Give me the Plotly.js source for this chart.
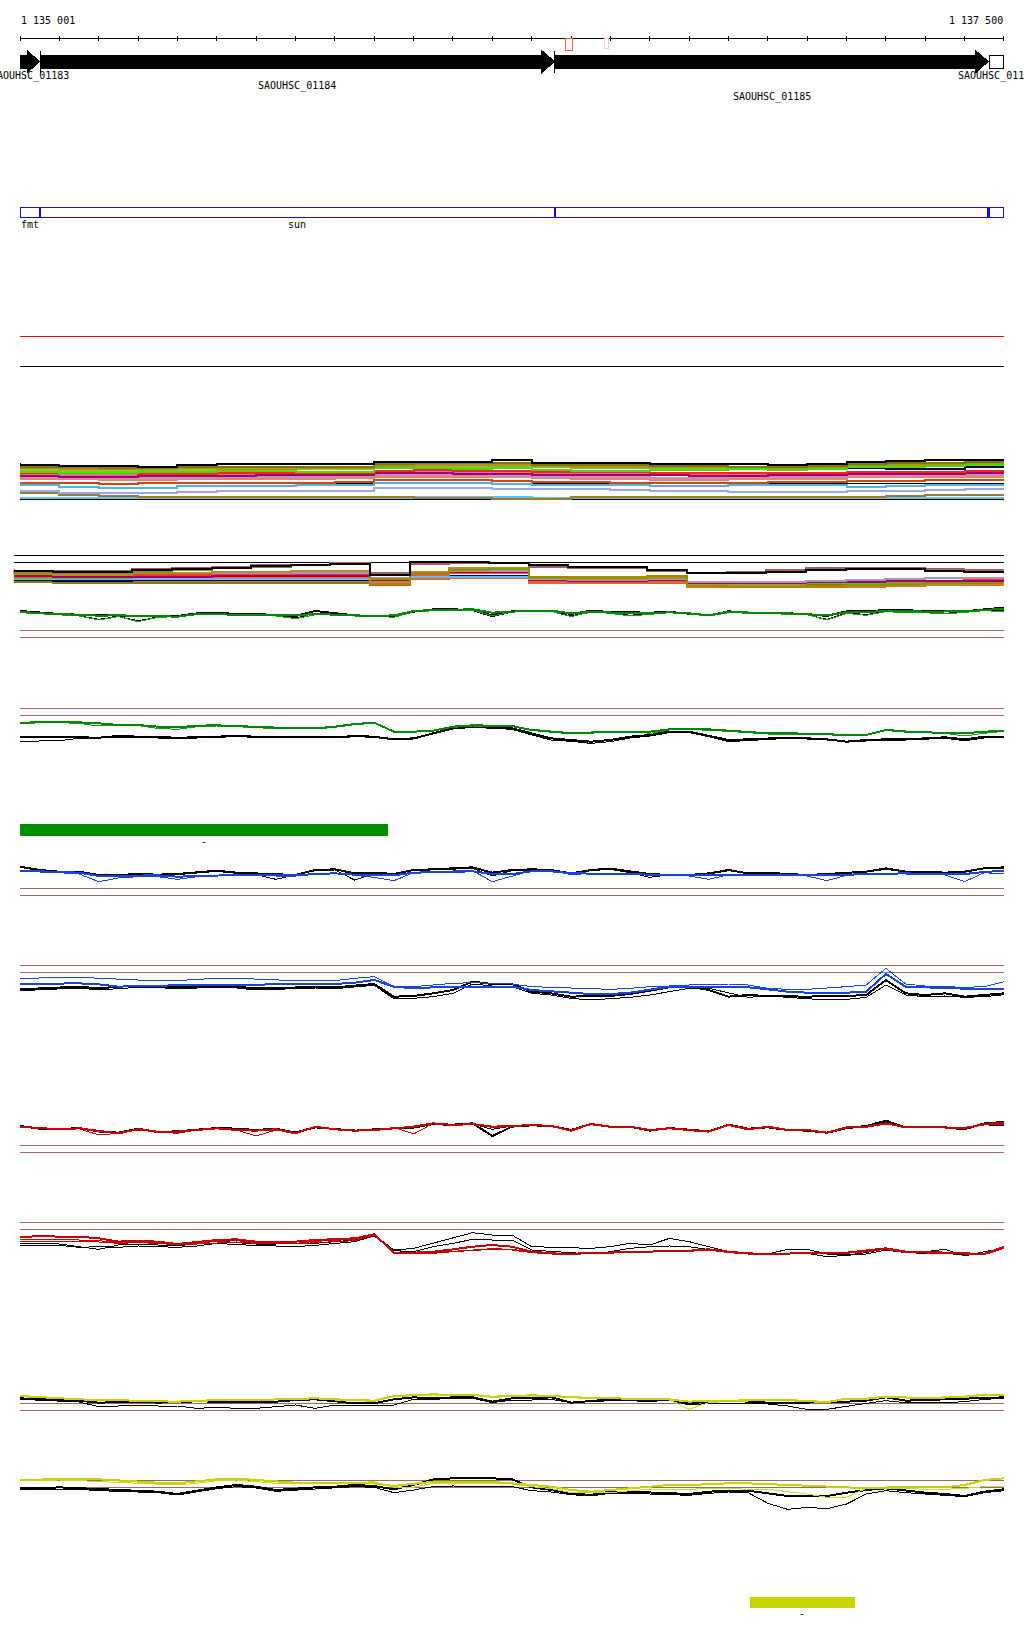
<!DOCTYPE html>
<html><head><meta charset="utf-8">
<script src="https://cdn.plot.ly/plotly-3.0.1.min.js"></script>
<style>html,body{margin:0;padding:0;background:#fff}#chart{width:1024px;height:1640px}
#chart .scatterlayer path, #chart .shapelayer path{shape-rendering:crispEdges}</style>
</head><body><div id="chart"></div>
<script>
// ---------------- data ----------------
const XMIN = 1135000, XMAX = 1137500;
const pos50 = []; for (let p = XMIN; p <= XMAX; p += 50) pos50.push(p);
const pos100 = []; for (let p = XMIN; p <= XMAX; p += 100) pos100.push(p);

// genes
const geneNames  = ['SAOUHSC_01183','SAOUHSC_01184','SAOUHSC_01185','SAOUHSC_01186'];
const geneStart  = [1134210, 1135051, 1136359, 1137462];
const geneEnd    = [1135050, 1136358, 1137460, 1138120];
const geneFilled = [true, true, true, false];
const geneRow    = [0, 1, 2, 0];

// named features
const featNames = ['fmt', 'sun', '', ''];
const featStart = [1134210, 1135051, 1136359, 1137462];
const featEnd   = [1135049, 1136359, 1137459, 1138120];

// small markers on ruler
const markStart = [1136385, 1136484];
const markEnd   = [1136404, 1136494];
const markColor = ['#ff5a3c', '#ffc8b8'];

// region bars
const barStart = [1135001, 1136855];
const barEnd   = [1135934, 1137121];
const barColor = ['#008f00', '#c8d400'];
const barLabel = ['-', '-'];

// thresholds per track
const thrA = [102, 12], thrB = [53, 7], thrC = [114, 93], thrD = [30, 8], thrE = [126, 104],
      thrF = [35, 14], thrG = [115, 93], thrH = [35, 13], thrI = [123, 102], thrJ = [30, 9], thrK = [100, 78];

// bundle 1 (100 bp windows)
const B_black   = [117,110,107,107,105,110,113,113,113,113,120,120,120,125,117,115,115,113,113,113,109,113,120,123,125,125];
const B_olive   = [110,105,103,100,100,105,105,103,105,105,113,115,115,117,111,109,109,107,107,105,103,107,113,115,117,119];
const B_gold    = [107,100,97,97,97,100,99,99,100,101,107,109,110,111,107,105,105,105,105,103,101,103,109,110,113,115];
const B_green   = [93,90,85,87,89,90,93,93,90,90,100,100,98,100,95,93,93,95,95,97,95,97,105,105,107,109];
const B_lgreen  = [99,95,93,93,93,95,95,97,97,97,105,105,105,107,103,101,100,99,99,99,97,99,105,105,107,109];
const B_navy    = [109,107,103,97,95,93,95,97,105,105,107,105,105,107,107,105,103,103,101,105,105,103,101,97,99,105];
const B_red     = [87,85,87,85,83,83,85,85,87,87,93,95,93,93,89,89,89,87,87,85,85,87,90,90,90,93];
const B_magenta = [80,77,75,75,77,77,77,79,79,80,85,85,83,83,80,80,79,79,77,77,79,79,83,83,83,85];
const B_pink    = [83,83,81,80,79,81,82,82,83,85,87,88,87,87,85,83,82,82,83,83,83,83,85,87,87,87];
const B_mauve   = [75,73,71,70,70,71,73,73,75,77,79,79,79,77,75,75,73,71,71,73,73,75,77,77,79,79];
const B_salmon  = [70,67,67,65,65,67,67,69,69,71,75,75,75,73,70,69,67,65,65,67,69,69,73,73,75,75];
const B_orange  = [60,57,55,53,57,57,55,55,57,59,65,65,65,63,60,59,57,57,55,57,59,59,63,63,65,65];
const B_lblue   = [50,49,45,40,40,47,48,48,50,50,55,55,55,53,50,49,49,47,47,49,50,49,45,47,50,50];
const B_peri    = [37,33,27,25,25,30,31,31,31,33,40,40,40,39,37,37,35,33,31,30,29,30,33,33,35,37];
const B_brown   = [35,27,19,17,15,13,13,13,13,15,15,11,11,9,9,13,13,13,13,13,13,13,15,17,19,20];
const B_lblue2  = [10,10,10,10,10,10,10,10,10,10,11,15,15,15,11,10,10,10,10,10,10,10,10,11,11,11];

// bundle 2 (100 bp windows)
const C_black   = [68,67,65,65,70,74,77,82,84,88,55,94,94,92,85,80,78,70,60,62,64,70,72,72,68,65];
const C_brown   = [72,68,66,66,72,76,78,84,86,90,60,88,92,90,80,75,75,68,62,65,70,75,75,75,72,70];
const C_olive   = [65,62,60,60,65,70,75,80,85,88,42,60,70,72,48,48,50,52,22,20,20,22,25,28,30,30];
const C_gold    = [60,58,56,56,60,62,64,65,66,68,35,65,75,76,45,42,42,45,25,25,24,22,22,24,25,28];
const C_lav     = [62,60,60,58,60,60,60,60,60,60,45,65,68,68,42,40,40,42,35,35,35,38,40,42,45,45];
const C_magenta = [52,52,50,50,50,50,52,52,52,52,38,60,65,65,40,38,38,40,32,32,32,34,34,36,36,38];
const C_red     = [54,54,52,52,54,54,54,54,54,54,40,62,66,66,42,40,40,42,34,34,34,36,36,38,38,40];
const C_orange  = [50,48,48,48,48,48,48,48,48,48,32,55,60,60,35,32,32,35,20,18,18,20,22,24,26,30];
const C_green   = [45,45,45,45,48,48,48,48,48,48,35,60,64,64,38,36,36,38,28,28,30,30,32,34,36,40];
const C_lblue   = [42,42,42,42,42,42,42,42,42,42,30,50,50,50,35,34,34,36,30,30,30,32,34,36,38,40];
const C_navy    = [40,40,38,38,40,40,40,40,40,40,32,48,52,52,36,36,36,36,32,32,32,32,34,36,36,38];
const C_olive2  = [35,35,32,30,30,32,32,32,32,32,25,45,48,48,30,30,30,30,25,25,25,28,30,30,32,32];
const C_dorange = [42,40,40,38,36,36,36,36,36,36,28,42,45,45,32,30,30,32,22,20,18,18,20,22,24,26];

// signal tracks (50 bp windows)
const D_black1 = [87,82,78,76,74,74,72,70,72,80,82,78,78,75,72,87,80,74,72,72,85,92,92,90,74,86,88,88,78,88,84,82,82,84,80,74,86,82,82,80,78,72,86,86,90,90,86,86,86,92,97];
const D_black2 = [84,80,76,73,62,70,58,68,70,78,78,74,74,72,66,80,76,72,72,70,84,90,90,88,70,84,86,86,72,86,82,74,80,84,78,72,84,80,80,78,76,62,82,76,86,84,84,80,84,90,88];
const D_green1 = [85,80,78,75,73,74,72,70,70,78,78,75,74,74,74,78,76,74,72,74,87,90,92,92,82,86,88,88,80,85,82,80,80,83,80,74,85,82,80,80,78,74,83,83,88,88,85,85,86,90,94];
const D_green2 = [82,78,75,72,60,70,55,68,70,76,76,74,74,72,64,76,75,72,72,68,85,88,90,90,72,84,87,86,70,84,80,72,78,82,78,72,82,80,78,78,76,60,80,74,85,82,82,78,84,88,85];

const E_green1 = [80,85,83,83,80,75,75,70,68,73,74,72,68,66,65,65,70,78,82,55,55,58,70,74,72,72,60,55,50,52,55,55,55,62,63,62,58,55,50,50,50,48,44,45,60,55,53,52,50,55,58];
const E_green2 = [78,82,82,80,72,72,73,65,62,70,72,70,66,64,63,63,68,76,80,55,56,58,68,72,72,70,62,58,52,54,56,56,50,60,62,60,56,52,48,48,48,46,42,43,62,56,52,50,42,50,56];
const E_black1 = [40,40,40,38,37,42,40,38,37,38,40,42,40,40,40,40,38,42,40,32,35,50,65,70,68,65,50,35,30,25,30,40,45,55,55,42,30,32,35,37,35,32,25,30,32,32,35,38,32,40,40];
const E_black2 = [26,26,28,35,36,38,38,36,35,36,38,40,38,38,38,38,36,40,38,30,33,48,63,68,66,62,45,30,26,20,25,36,42,52,52,40,25,28,32,35,33,30,24,28,30,30,32,35,28,36,38];

const F_blue1  = [88,86,84,82,72,72,74,74,70,72,75,75,75,74,74,78,80,76,74,74,82,84,85,86,78,78,86,86,80,80,80,78,76,74,74,74,76,76,75,74,74,74,76,78,80,80,78,78,78,84,88];
const F_blue2  = [90,84,82,78,55,66,70,70,62,70,74,76,75,72,72,78,82,74,68,58,82,86,86,88,55,72,88,88,76,80,80,78,74,72,72,62,76,76,74,74,72,58,74,78,80,78,76,75,55,82,78];
const F_black1 = [100,90,85,85,75,75,78,76,78,82,88,82,80,78,75,90,92,80,82,78,90,92,95,98,82,90,92,90,80,90,94,85,78,75,75,80,90,80,82,78,75,78,82,85,95,85,85,82,85,95,98];
const F_black2 = [98,88,82,82,76,74,76,74,76,80,86,80,76,62,76,88,90,60,78,80,88,90,94,95,72,88,90,88,78,88,92,82,68,76,74,78,88,82,80,78,76,76,80,84,92,84,82,82,84,94,96];

const G_blueU  = [75,75,77,78,75,72,70,70,68,72,75,75,72,70,68,67,68,75,80,50,50,55,60,62,60,58,50,48,45,42,42,45,50,52,55,58,58,55,45,42,42,45,50,55,105,58,52,50,48,50,65];
const G_blueL  = [58,58,60,60,57,50,52,52,55,55,57,55,55,57,57,58,58,62,70,50,45,48,48,50,50,50,40,35,32,28,28,32,40,50,50,50,50,48,42,35,32,32,32,35,88,50,48,45,42,42,42];
const G_blackU = [42,45,48,50,45,50,52,50,48,50,52,50,45,45,47,50,48,52,58,20,22,30,40,65,58,58,35,30,20,22,22,28,38,48,50,40,20,25,22,20,20,22,22,25,70,30,25,30,20,25,30];
const G_blackL = [38,40,44,46,40,45,48,47,44,46,48,46,40,42,44,46,44,48,54,14,15,20,30,58,52,50,30,25,15,10,14,18,25,35,45,45,32,18,22,18,14,10,12,18,55,25,20,22,18,20,26];

const H_red1   = [90,85,82,85,78,70,82,75,75,80,85,80,78,82,70,90,82,78,80,85,90,100,95,98,90,92,95,92,78,98,90,90,80,85,80,75,95,82,90,80,80,72,88,90,100,88,90,88,85,98,102];
const H_red2   = [88,84,82,84,65,70,80,74,70,80,84,80,62,80,70,88,82,78,78,88,68,100,95,96,88,90,95,92,78,96,88,88,80,84,78,74,95,84,88,80,78,72,86,88,98,88,88,86,88,95,98];
const H_black1 = [92,84,82,86,76,72,84,74,76,82,86,84,80,84,72,88,82,78,82,86,88,98,96,100,62,90,94,92,80,98,90,90,78,86,80,76,96,84,88,80,78,72,86,92,108,88,90,88,82,100,104];
const H_black2 = [90,86,82,84,74,70,82,72,76,80,84,82,80,84,74,90,82,80,80,86,86,96,94,98,82,92,94,90,80,96,88,88,78,84,80,76,94,82,88,82,80,70,84,90,104,86,88,86,84,96,92];

const I_red1   = [78,82,80,80,75,65,68,65,58,65,70,72,65,65,65,70,72,75,87,32,32,35,42,50,55,50,35,30,28,32,32,35,35,38,38,42,35,30,28,30,30,32,32,38,45,35,35,32,30,28,50];
const I_red2   = [70,72,72,70,68,62,65,62,56,60,66,68,62,62,60,66,68,72,88,30,30,30,35,38,42,40,32,28,26,30,32,32,34,35,36,40,32,28,26,28,28,30,30,35,42,32,32,30,28,26,45];
const I_red3   = [65,66,66,66,64,60,62,60,55,58,62,64,60,58,58,62,64,68,85,30,30,32,36,40,44,42,34,30,28,32,32,34,34,36,38,42,34,30,28,30,30,32,32,36,44,34,34,32,30,28,48];
const I_black1 = [58,60,58,50,42,55,58,55,52,60,68,62,58,58,58,60,65,70,85,40,45,60,75,92,85,85,50,48,45,45,50,60,55,75,65,50,35,28,28,42,42,28,25,32,45,35,35,42,22,35,45];
const I_black2 = [52,52,54,48,50,48,52,50,48,52,60,56,54,52,50,54,60,65,82,38,35,50,60,72,70,70,40,36,30,28,35,45,50,52,50,40,32,28,26,28,30,20,25,28,40,32,30,30,25,30,45];

const J_yellowA = [52,48,45,42,40,40,38,36,35,38,40,40,40,42,42,45,42,40,38,52,55,57,55,55,50,52,54,52,48,46,45,44,43,42,35,38,38,40,40,40,38,34,44,44,50,48,45,48,50,56,56];
const J_yellowB = [50,46,44,42,40,38,36,35,35,36,38,40,40,40,42,44,40,38,36,50,53,55,54,54,48,50,52,50,46,44,44,42,42,40,12,32,36,38,38,38,36,32,42,42,48,46,44,46,48,54,58];
const J_blackA  = [45,42,40,38,32,34,35,32,34,36,35,36,35,35,40,42,35,30,30,42,48,45,48,48,35,45,45,48,32,38,42,40,38,40,30,35,38,35,32,32,32,35,35,38,48,38,40,42,42,45,48];
const J_blackB  = [42,40,38,34,20,22,24,22,22,15,18,15,15,20,25,15,25,25,25,25,42,42,45,45,32,40,40,42,32,35,38,38,35,40,25,30,30,28,28,22,12,12,22,30,38,32,32,32,35,42,45];

const K_yellowU = [100,102,102,104,102,98,95,92,90,95,102,104,100,95,92,92,92,90,90,82,88,95,95,95,94,90,85,80,70,65,70,75,82,85,85,88,90,90,88,85,82,80,78,75,78,80,78,78,85,100,105];
const K_yellowL = [98,99,100,98,95,92,90,88,85,90,98,100,95,90,90,90,90,92,95,78,78,90,90,90,90,88,80,74,62,62,62,68,72,72,72,75,75,72,72,65,58,48,48,75,75,75,72,72,75,80,80];
const K_blackU  = [75,75,78,75,72,70,68,65,58,68,78,85,80,70,75,78,80,85,82,72,85,102,105,105,105,102,78,70,60,55,65,65,62,60,58,65,68,68,60,52,52,52,62,70,75,68,62,58,52,65,72];
const K_blackL  = [72,72,74,72,68,66,64,62,55,64,74,80,76,66,70,74,76,80,78,62,70,80,82,82,82,80,68,64,56,52,60,60,58,56,54,60,64,62,30,12,18,14,28,58,68,62,58,55,50,62,68];

// ---------------- layout helpers ----------------
const H = 1640, W = 1024;
const FONT = {family: 'DejaVu Sans Mono, monospace', size: 10, color: '#000'};
const BROWN = '#9e6666';
const EDGE = 2; // keep box outlines inside the clipped axis area
function py(px) { return 1 - px / H; }
function fmtNum(n) { return String(n).replace(/\B(?=(\d{3})+(?!\d))/g, ' '); }

const tracks = {
  A: {ax: 'y',   top: 320,     R: 150},
  B: {ax: 'y2',  top: 453.33,  R: 145},
  C: {ax: 'y3',  top: 540,     R: 160, xa: 'x2'},
  D: {ax: 'y4',  top: 540,     R: 300},
  E: {ax: 'y5',  top: 700,     R: 150},
  F: {ax: 'y6',  top: 850,     R: 150},
  G: {ax: 'y7',  top: 960,     R: 130},
  H: {ax: 'y8',  top: 1100,    R: 170},
  I: {ax: 'y9',  top: 1216.67, R: 140},
  J: {ax: 'y10', top: 1370,    R: 130},
  K: {ax: 'y11', top: 1470,    R: 130}
};

const traces = [];
function addLine(t, xs, ys, color, width, shape) {
  const tr = tracks[t];
  traces.push({type: 'scatter', mode: 'lines', x: xs, y: ys, xaxis: tr.xa || 'x', yaxis: tr.ax,
    line: {color: color, width: width, shape: shape || 'linear'}, hoverinfo: 'skip', showlegend: false});
}
function addThr(t, vals, colors) {
  vals.forEach((v, i) => addLine(t, [XMIN, XMAX], [v, v], colors[i], 1));
}

// thresholds
addThr('A', thrA, ['#ff0000', '#000000']);
addThr('B', thrB, ['#000', '#000']);
addThr('C', thrC, ['#000', '#000']);
['D','E','F','G','H','I','J','K'].forEach(t => addThr(t, {D:thrD,E:thrE,F:thrF,G:thrG,H:thrH,I:thrI,J:thrJ,K:thrK}[t], [BROWN, BROWN]));

// bundle 1
[[B_lblue2,'#60c0f0'],[B_brown,'#a07830'],[B_peri,'#a0a8e0'],[B_lblue,'#50b0f0'],[B_orange,'#d04818'],
 [B_salmon,'#f08060'],[B_mauve,'#c090c0'],[B_pink,'#e070a0'],[B_magenta,'#a00070'],[B_red,'#ff2020'],
 [B_navy,'#000050'],[B_lgreen,'#90c030'],[B_green,'#40e000'],[B_gold,'#b09020'],[B_olive,'#7a7a00'],[B_black,'#000000']]
 .forEach(([d, c]) => addLine('B', pos100, d, c, 2, 'vh'));

// bundle 2
[[C_olive2,'#808000'],[C_dorange,'#d07030'],[C_navy,'#000060'],[C_lblue,'#70b8f0'],[C_green,'#40d000'],
 [C_orange,'#f06020'],[C_red,'#ff3030'],[C_magenta,'#a00070'],[C_lav,'#b090c0'],[C_gold,'#b09020'],
 [C_olive,'#909000'],[C_brown,'#a06060'],[C_black,'#000000']]
 .forEach(([d, c]) => addLine('C', pos100, d, c, 2, 'vh'));

// signal tracks
const GREEN = '#008800', GREEN2 = '#1a9a1a', BLUE = '#1744e0', RED = '#cc0000', YEL = '#c8d400', YEL2 = '#d0d820';
addLine('D', pos50, D_black2, '#000', 1); addLine('D', pos50, D_black1, '#000', 2);
addLine('D', pos50, D_green2, GREEN2, 1); addLine('D', pos50, D_green1, GREEN, 2);
addLine('E', pos50, E_black2, '#000', 1); addLine('E', pos50, E_black1, '#000', 2);
addLine('E', pos50, E_green2, GREEN2, 1); addLine('E', pos50, E_green1, GREEN, 2);
addLine('F', pos50, F_black2, '#000', 1); addLine('F', pos50, F_black1, '#000', 2);
addLine('F', pos50, F_blue2, BLUE, 1); addLine('F', pos50, F_blue1, BLUE, 2);
addLine('G', pos50, G_blackL, '#000', 1); addLine('G', pos50, G_blackU, '#000', 2);
addLine('G', pos50, G_blueU, BLUE, 1); addLine('G', pos50, G_blueL, BLUE, 2);
addLine('H', pos50, H_black2, '#000', 1); addLine('H', pos50, H_black1, '#000', 2);
addLine('H', pos50, H_red2, RED, 1); addLine('H', pos50, H_red1, RED, 2);
addLine('I', pos50, I_black2, '#000', 1); addLine('I', pos50, I_black1, '#000', 1);
addLine('I', pos50, I_red3, RED, 1); addLine('I', pos50, I_red2, RED, 1); addLine('I', pos50, I_red1, RED, 2);
addLine('J', pos50, J_blackB, '#000', 1); addLine('J', pos50, J_blackA, '#000', 2);
addLine('J', pos50, J_yellowB, YEL2, 1); addLine('J', pos50, J_yellowA, YEL, 2);
addLine('K', pos50, K_blackL, '#000', 1); addLine('K', pos50, K_blackU, '#000', 2);
addLine('K', pos50, K_yellowL, YEL2, 1); addLine('K', pos50, K_yellowU, YEL, 2);

// ---------------- shapes / annotations ----------------
const shapes = [], annotations = [];
function ann(text, x, ypx, xanchor) {
  annotations.push({text: text, x: x, y: py(ypx), xref: 'x', yref: 'paper', xanchor: xanchor || 'center',
    yanchor: 'middle', showarrow: false, font: FONT, borderpad: 0});
}
// ruler
shapes.push({type: 'line', xref: 'x', yref: 'paper', x0: XMIN, x1: XMAX, y0: py(38.5), y1: py(38.5), line: {color: '#000', width: 1}});
for (let p = XMIN; p <= XMAX; p += 100)
  shapes.push({type: 'line', xref: 'x', yref: 'paper', x0: Math.min(Math.max(p, XMIN + 1), XMAX - 1), x1: Math.min(Math.max(p, XMIN + 1), XMAX - 1),
    y0: py(36), y1: py(41), line: {color: '#000', width: 1}});
ann(fmtNum(XMIN + 1), XMIN, 20.7, 'left');
ann(fmtNum(XMAX), XMAX, 20.7, 'right');

// markers
markStart.forEach((s, i) => shapes.push({type: 'rect', xref: 'x', yref: 'paper', x0: s, x1: markEnd[i],
  y0: py(38.5), y1: py(i === 0 ? 50.7 : 48.3), fillcolor: '#fff', line: {color: markColor[i], width: 1}}));

// genes
const HEAD = 32, rowY = [76, 86, 97.3];
geneNames.forEach((n, i) => {
  const s = Math.max(geneStart[i], XMIN), e = Math.min(geneEnd[i], XMAX);
  if (geneFilled[i]) {
    const h = Math.min(HEAD, e - s);
    const b1 = py(55), b2 = py(68.3), h1 = py(50.7), h2 = py(72.7), m = py(61.5);
    const path = `M${s},${b1} L${e - h},${b1} L${e - h},${h1} L${e},${m} L${e - h},${h2} L${e - h},${b2} L${s},${b2} Z`;
    shapes.push({type: 'path', xref: 'x', yref: 'paper', path: path, fillcolor: '#000', line: {color: '#000', width: 1}});
    if (geneStart[i] >= XMIN)
      shapes.push({type: 'line', xref: 'x', yref: 'paper', x0: geneStart[i], x1: geneStart[i], y0: py(50.7), y1: py(72.7), line: {color: '#000', width: 1}});
  } else {
    shapes.push({type: 'rect', xref: 'x', yref: 'paper', x0: s, x1: Math.min(e, XMAX - EDGE), y0: py(55), y1: py(68.3), fillcolor: '#fff', line: {color: '#000', width: 1}});
  }
  ann(n, (s + e) / 2, rowY[geneRow[i]]);
});

// features
featNames.forEach((n, i) => {
  const s = Math.max(featStart[i], XMIN + EDGE), e = Math.min(featEnd[i], XMAX - EDGE);
  shapes.push({type: 'rect', xref: 'x', yref: 'paper', x0: s, x1: e, y0: py(207.3), y1: py(217.3),
    fillcolor: 'rgba(0,0,0,0)', line: {color: '#1010e0', width: 1.3}});
  if (n) ann(n, (Math.max(featStart[i], XMIN) + e) / 2, 224.3);
});

// bars
const barTop = [824, 1596.7], barBot = [835.7, 1607.7], barLabY = [841.3, 1613.3];
barStart.forEach((s, i) => {
  shapes.push({type: 'rect', xref: 'x', yref: 'paper', x0: s, x1: barEnd[i], y0: py(barBot[i]), y1: py(barTop[i]),
    fillcolor: barColor[i], line: {width: 0}});
  ann(barLabel[i], (s + barEnd[i]) / 2, barLabY[i]);
});

// ---------------- layout ----------------
const layout = {
  width: W, height: H, margin: {l: 0, r: 0, t: 0, b: 0},
  paper_bgcolor: '#fff', plot_bgcolor: 'rgba(0,0,0,0)', showlegend: false,
  xaxis:  {domain: [20 / W, 1004 / W], range: [XMIN, XMAX], visible: false, fixedrange: true, anchor: 'y'},
  xaxis2: {domain: [13.5 / W, 1004 / W], range: [XMIN, XMAX], visible: false, fixedrange: true, anchor: 'y3'},
  shapes: shapes, annotations: annotations
};
Object.values(tracks).forEach(tr => {
  const key = tr.ax === 'y' ? 'yaxis' : 'yaxis' + tr.ax.slice(1);
  const bot = tr.top + tr.R / 3;
  layout[key] = {domain: [1 - bot / H, 1 - tr.top / H], range: [0, tr.R], visible: false, fixedrange: true, anchor: tr.xa || 'x'};
});

Plotly.newPlot('chart', traces, layout, {staticPlot: true, displayModeBar: false});
</script>
</body></html>
